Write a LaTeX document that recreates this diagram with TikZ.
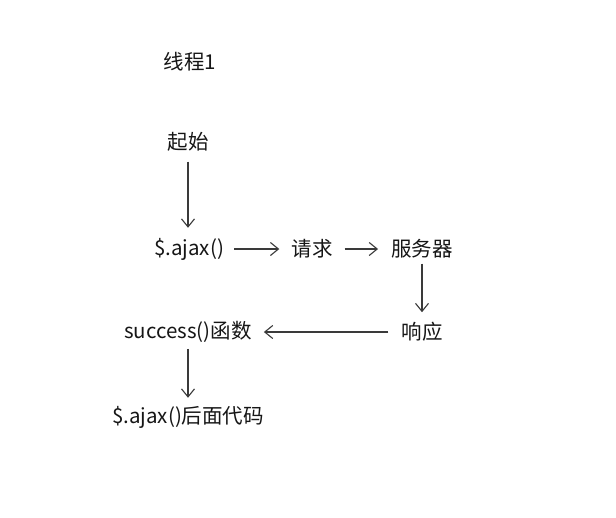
\documentclass[tikz,border=0pt]{standalone}
\usepackage{fontspec}
\setmainfont{Noto Sans CJK SC}
\usetikzlibrary{arrows.meta}
\definecolor{ink}{HTML}{161616}
\definecolor{wire}{HTML}{3A3A3A}
\begin{document}
\begin{tikzpicture}[x=1pt,y=-1pt,
  lbl/.style={text=ink,font=\fontsize{20.5}{24}\selectfont,inner sep=0pt,anchor=center},
  flow/.style={draw=wire,line width=1.1pt,-{Straight Barb[length=8pt,width=13pt,line width=1.1pt]}}]
  \fill[white] (0,0) rectangle (616,517);
  \useasboundingbox (0,0) rectangle (616,517);

  \node[lbl] (title) at (190,62) {线程1};
  \node[lbl] (start) at (188,142) {起始};
  \node[lbl] (ajax) at (189,249) {\$.ajax()};
  \node[lbl] (req) at (312,249) {请求};
  \node[lbl] (srv) at (422,249) {服务器};
  \node[lbl] (resp) at (422,332) {响应};
  \node[lbl] (succ) at (188,332) {success()函数};
  \node[lbl] (after) at (188,417) {\$.ajax()后面代码};

  \draw[flow,shorten <=10pt,shorten >=10pt] (start.south) -- (start.south |- ajax.north);
  \draw[flow,shorten <=10pt,shorten >=12pt] (ajax.east) -- (req.west);
  \draw[flow,shorten <=12pt,shorten >=13pt] (req.east) -- (srv.west);
  \draw[flow,shorten <=5pt,shorten >=10pt] (srv.south) -- (resp.north);
  \draw[flow,shorten <=13pt,shorten >=12pt] (resp.west) -- (succ.east);
  \draw[flow,shorten <=6pt,shorten >=8pt] (succ.south) -- (succ.south |- after.north);
\end{tikzpicture}
\end{document}
